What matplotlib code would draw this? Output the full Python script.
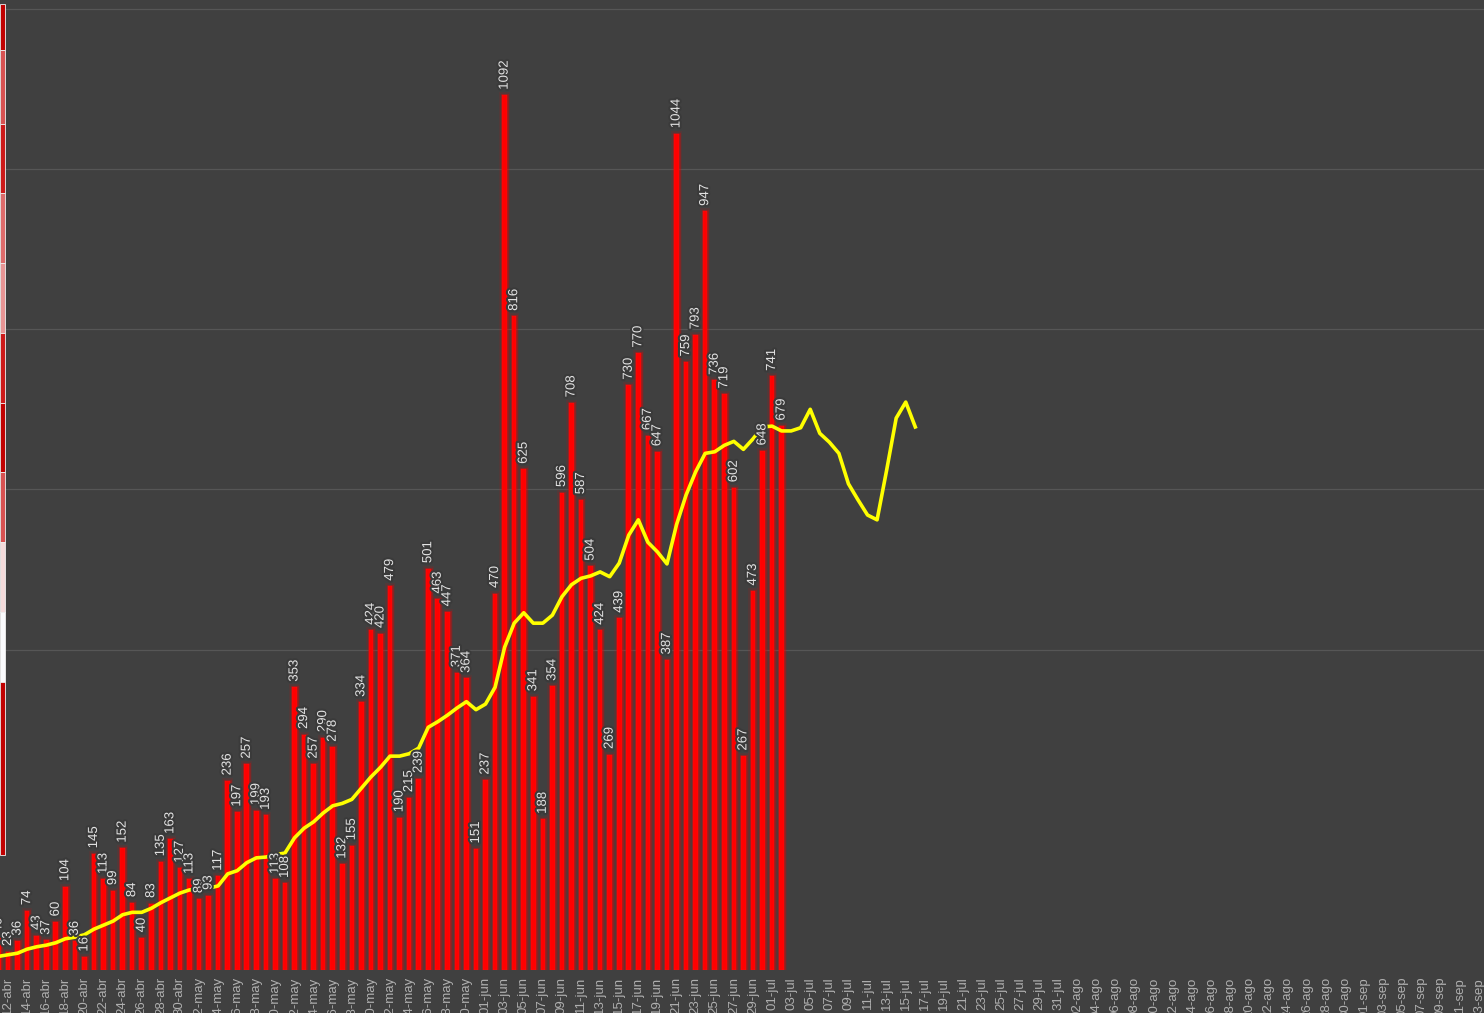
import matplotlib
matplotlib.use("Agg")
import matplotlib.pyplot as plt
import matplotlib.patheffects as pe
from matplotlib.patches import Rectangle
import numpy as np
import pandas as pd

plt.rcParams['font.family'] = ['Liberation Sans', 'DejaVu Sans']

# ---------------- data ----------------
bar_start = "2020-04-11"
daily_cases = [40, 23, 36, 74, 43, 37, 60, 104, 36, 16,
               145, 113, 99, 152, 84, 40, 83, 135, 163, 127,
               113, 89, 93, 117, 236, 197, 257, 199, 193, 113,
               108, 353, 294, 257, 290, 278, 132, 155, 334, 424,
               420, 479, 190, 215, 239, 501, 463, 447, 371, 364,
               151, 237, 470, 1092, 816, 625, 341, 188, 354, 596,
               708, 587, 504, 424, 269, 439, 730, 770, 667, 647,
               387, 1044, 759, 793, 947, 736, 719, 602, 267, 473,
               648, 741, 679]

line_start = "2020-04-11"
trend = [17, 19, 21, 26, 29, 31, 34, 39, 41, 44,
         51, 56, 61, 69, 72, 72, 77, 84, 90, 96,
         100, 101, 102, 105, 120, 124, 134, 140, 141, 144,
         146, 165, 177, 185, 196, 205, 208, 213, 227, 241,
         253, 267, 267, 270, 277, 303, 310, 318, 327, 335,
         325, 332, 353, 403, 433, 446, 433, 433, 443, 466,
         481, 489, 492, 497, 491, 508, 543, 562, 534, 522,
         507, 556, 593, 622, 645, 647, 655, 660, 650, 663,
         678, 679, 673, 673, 677, 700, 670, 659, 645, 607,
         587, 568, 562, 624, 689, 709, 678]

axis_start = "2020-04-12"
axis_end = "2020-09-13"
month_names = {4: "abr", 5: "may", 6: "jun", 7: "jul", 8: "ago", 9: "sep"}
grid_values = [400, 600, 800, 1000, 1200]

# left-edge (cut off) colour strip: (top_px, bottom_px, colour)
strip_blocks = [(4, 50, "#c00000"), (50, 124, "#d85252"), (124, 193, "#cc1a1a"),
                (193, 263, "#dd6b6b"), (263, 333, "#e89595"), (333, 403, "#cc1a1a"),
                (403, 472, "#c00000"), (472, 542, "#d85252"), (542, 612, "#f5dcdc"),
                (612, 682, "#fbfbfd"), (682, 855, "#c00000")]

# ---------------- layout ----------------
W, H = 1484, 1013
BG = "#404040"
fig = plt.figure(figsize=(W / 100, H / 100), dpi=100, facecolor=BG)
ax = fig.add_axes([0, 43 / H, 1, 1 - 43 / H])
ax.set_facecolor(BG)

origin = pd.Timestamp(axis_start)
bar_days = (pd.date_range(bar_start, periods=len(daily_cases)) - origin).days.values
line_days = (pd.date_range(line_start, periods=len(trend)) - origin).days.values
tick_dates = pd.date_range(axis_start, axis_end, freq="2D")
tick_pos = (tick_dates - origin).days.values
tick_labels = [f"{d.day:02d}-{month_names[d.month]}" for d in tick_dates]

for g in grid_values:
    ax.axhline(g, color="#565656", lw=0.9, zorder=0)

bars = ax.bar(bar_days, daily_cases, width=0.48, color="#ff0000",
              edgecolor="#ff1a1a", linewidth=0.2, zorder=2)
glow = [pe.Stroke(linewidth=4.2, foreground="#ff0000", alpha=0.10),
        pe.Stroke(linewidth=2.2, foreground="#e00000", alpha=0.35),
        pe.Normal()]
for b in bars:
    b.set_path_effects(glow)

ax.plot(line_days, trend, color="#ffff00", lw=2.6, zorder=4,
        solid_joinstyle="round")

for xd, v in zip(bar_days, daily_cases):
    ax.annotate(str(v), (xd, v), xytext=(0, 4), textcoords="offset points",
                rotation=90, ha="center", va="bottom", fontsize=9.5,
                color="#e2e2e2", zorder=5, annotation_clip=False,
                path_effects=[pe.withStroke(linewidth=3, foreground="#3a3a3a")])

ax.set_xlim(-0.84, 154.55)
ax.set_ylim(0, 1211)
ax.set_xticks(tick_pos)
ax.set_xticklabels(tick_labels, rotation=90, fontsize=9.5, color="#b0b0b0")
ax.tick_params(axis="x", length=0, pad=5)
ax.set_yticks([])
for s in ax.spines.values():
    s.set_visible(False)

# cut-off colour strip at the left edge
for top, bot, col in strip_blocks:
    fig.patches.append(Rectangle((0, 1 - bot / H), 5 / W, (bot - top) / H,
                                 transform=fig.transFigure, facecolor=col,
                                 edgecolor="#f0f0f0", linewidth=0.6, zorder=10))

fig.savefig("out.png", dpi=100, facecolor=BG)
